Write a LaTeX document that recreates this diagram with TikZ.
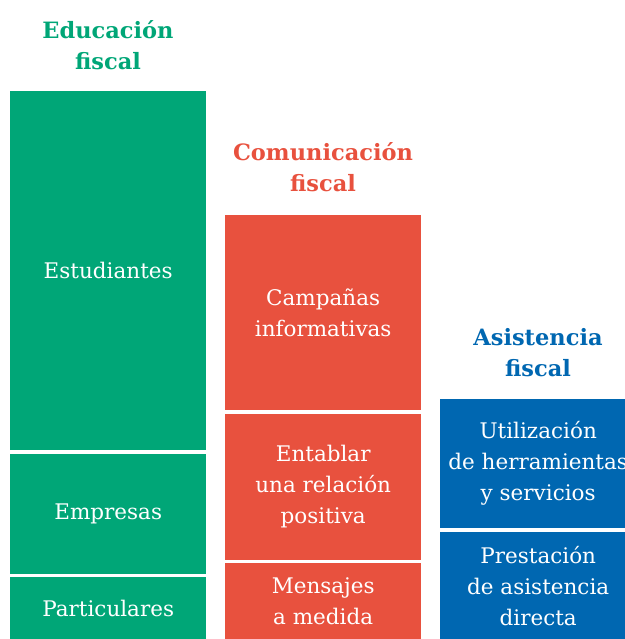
\documentclass[tikz,border=0pt]{standalone}
\usepackage{fontspec}
\setmainfont{DejaVu Serif}
\usetikzlibrary{positioning}
\definecolor{edugreen}{RGB}{0,166,119}
\definecolor{comred}{RGB}{232,81,62}
\definecolor{asisblue}{RGB}{0,103,177}
\begin{document}
\begin{tikzpicture}[
  x=1pt, y=1pt,
  node distance=3pt,
  every node/.style = {align=center, inner sep=0pt},
  block/.style = {minimum width=196pt, text=white, font=\fontsize{21.5}{31}\selectfont},
  greenbox/.style = {block, fill=edugreen},
  redbox/.style = {block, fill=comred},
  bluebox/.style = {block, fill=asisblue},
  head/.style = {font=\bfseries\fontsize{22.5}{31}\selectfont}
]
  \useasboundingbox (0,0) rectangle (624,639);
  % Educacion fiscal
  \node[head, text=edugreen] (edutitle) at (108,594) {Educación\\fiscal};
  \node[greenbox, minimum height=359pt, anchor=north west] (estudiantes) at (10,548) {Estudiantes};
  \node[greenbox, minimum height=120pt, below=of estudiantes] (empresas) {Empresas};
  \node[greenbox, minimum height=63pt, below=of empresas] (particulares) {Particulares};
  % Comunicacion fiscal
  \node[head, text=comred] (comtitle) at (323,472) {Comunicación\\fiscal};
  \node[redbox, minimum height=195pt, anchor=north west] (campanas) at (225,424) {Campañas\\informativas};
  \node[redbox, minimum height=146pt, below=of campanas] (entablar) {Entablar\\una relación\\positiva};
  \node[redbox, minimum height=77pt, below=of entablar] (mensajes) {Mensajes\\a medida};
  % Asistencia fiscal
  \node[head, text=asisblue] (asistitle) at (538,286) {Asistencia\\fiscal};
  \node[bluebox, minimum height=129pt, anchor=north west] (utilizacion) at (440,240) {Utilización\\de herramientas\\y servicios};
  \node[bluebox, minimum height=108pt, below=of utilizacion] (prestacion) {Prestación\\de asistencia\\directa};
\end{tikzpicture}
\end{document}
